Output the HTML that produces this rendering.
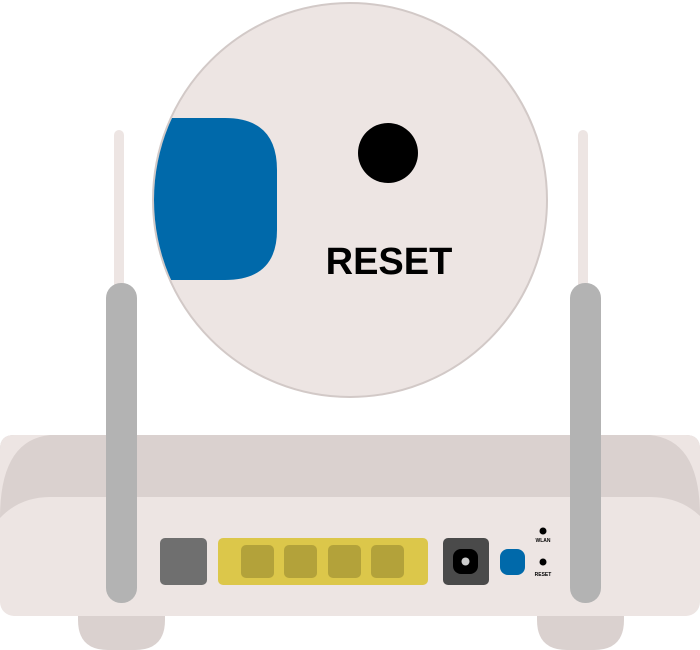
<!DOCTYPE html>
<html><head><style>body{margin:0;background:#fff}svg{display:block}</style></head><body>
<svg width="700" height="650" viewBox="0 0 700 650" xmlns="http://www.w3.org/2000/svg">
<rect x="114" y="130" width="10" height="160" rx="5" fill="#ede5e3"/>
<rect x="578" y="130" width="10" height="160" rx="5" fill="#ede5e3"/>
<circle cx="350" cy="200" r="197" fill="#ede5e3" stroke="#d2c9c7" stroke-width="2"/>
<clipPath id="c"><circle cx="350" cy="200" r="196"/></clipPath>
<path clip-path="url(#c)" d="M140 118 H225 Q277 118 277 170 V230 Q277 280 225 280 H140 Z" fill="#0069aa"/>
<circle cx="388" cy="153" r="30" fill="#000"/>
<text x="389" y="274" font-family="Liberation Sans, sans-serif" font-weight="bold" font-size="38" text-anchor="middle" fill="#000">RESET</text>
<path d="M78 600 H165 V620 Q165 650 135 650 H108 Q78 650 78 620Z" fill="#dad1cf"/>
<path d="M537 600 H624 V620 Q624 650 594 650 H567 Q537 650 537 620Z" fill="#dad1cf"/>
<rect x="0" y="435" width="700" height="181" rx="14" fill="#ede5e3"/>
<path d="M14 435 H686 Q700 435 700 449 V516 Q680 497 650 497 H50 Q20 497 0 518 V449 Q0 435 14 435Z" fill="#dad1cf"/>
<path d="M0 518 Q0 440 50 435 H14 Q0 435 0 449Z" fill="#ede5e3"/>
<path d="M700 516 Q700 440 650 435 H686 Q700 435 700 449Z" fill="#ede5e3"/>
<rect x="106" y="283" width="31" height="320" rx="15" fill="#b3b3b3"/>
<rect x="570" y="283" width="31" height="320" rx="15" fill="#b3b3b3"/>
<rect x="160" y="538" width="47" height="47" rx="5" fill="#6f6f6f"/>
<rect x="218" y="538" width="210" height="47" rx="5" fill="#dcc74a"/>
<rect x="241" y="545" width="33" height="33" rx="5" fill="#b3a23a"/>
<rect x="284" y="545" width="33" height="33" rx="5" fill="#b3a23a"/>
<rect x="328" y="545" width="33" height="33" rx="5" fill="#b3a23a"/>
<rect x="371" y="545" width="33" height="33" rx="5" fill="#b3a23a"/>
<rect x="443" y="538" width="46" height="47" rx="5" fill="#4a4a4a"/>
<rect x="453" y="549" width="25" height="25" rx="8" fill="#000"/>
<circle cx="465.5" cy="561.5" r="4" fill="#ccc"/>
<rect x="500" y="549" width="25" height="26" rx="8" fill="#0069aa"/>
<circle cx="543" cy="531" r="3.5" fill="#000"/>
<text x="543" y="542" font-family="Liberation Sans, sans-serif" font-weight="bold" font-size="5" text-anchor="middle">WLAN</text>
<circle cx="543" cy="562" r="3.5" fill="#000"/>
<text x="543" y="576" font-family="Liberation Sans, sans-serif" font-weight="bold" font-size="5" text-anchor="middle">RESET</text>
</svg>
</body></html>
